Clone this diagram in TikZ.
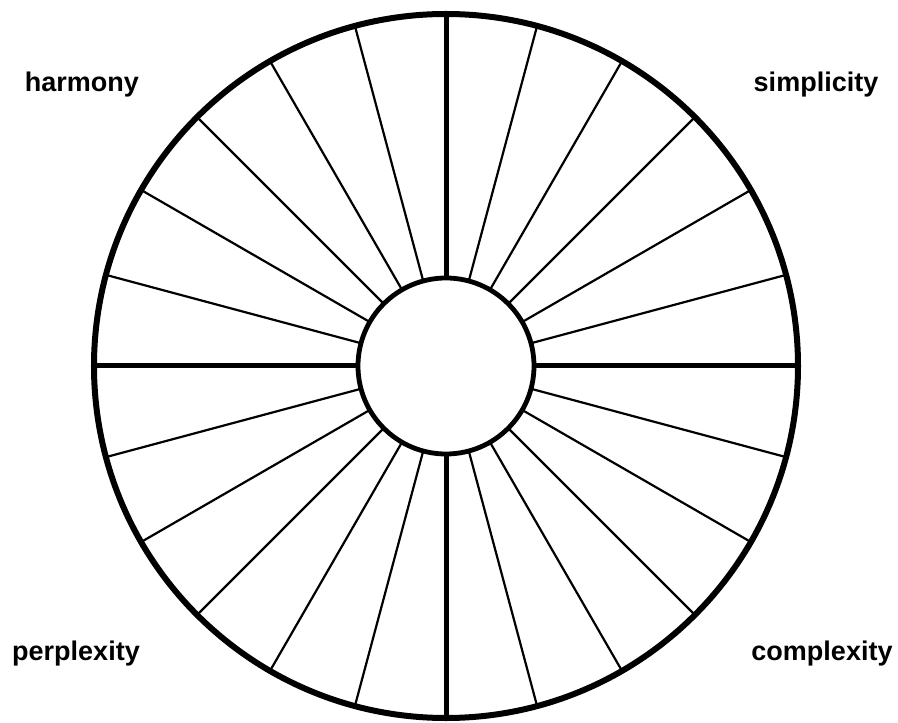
\documentclass[tikz,border=0pt]{standalone}
\usepackage{fontspec}
\setmainfont{Liberation Sans}

\begin{document}
\begin{tikzpicture}[
  x=0.5pt, y=0.5pt,
  ring/.style={draw, circle, outer sep=0pt, inner sep=0pt},
  spoke/.style={line width=1.1pt},
  mainspoke/.style={line width=2.5pt},
  tag/.style={font=\fontsize{13.5}{16}\selectfont\bfseries, anchor=base}
]
\useasboundingbox (-446,-356) rectangle (452,366);
\node[ring, line width=3pt, minimum size=352pt] (rim) at (0,0) {};
\node[ring, line width=2.4pt, minimum size=88pt, fill=white] (hub) at (0,0) {};
\foreach \a in {15,30,...,345} {\draw[spoke] (hub.\a) -- (rim.\a);}
\foreach \a in {0,90,180,270} {\draw[mainspoke] (hub.\a) -- (rim.\a);}
\node[tag] (harmony) at (-364,274) {harmony};
\node[tag] (simplicity) at (370,274) {simplicity};
\node[tag] (perplexity) at (-370,-294) {perplexity};
\node[tag] (complexity) at (376,-294) {complexity};
\end{tikzpicture}
\end{document}
